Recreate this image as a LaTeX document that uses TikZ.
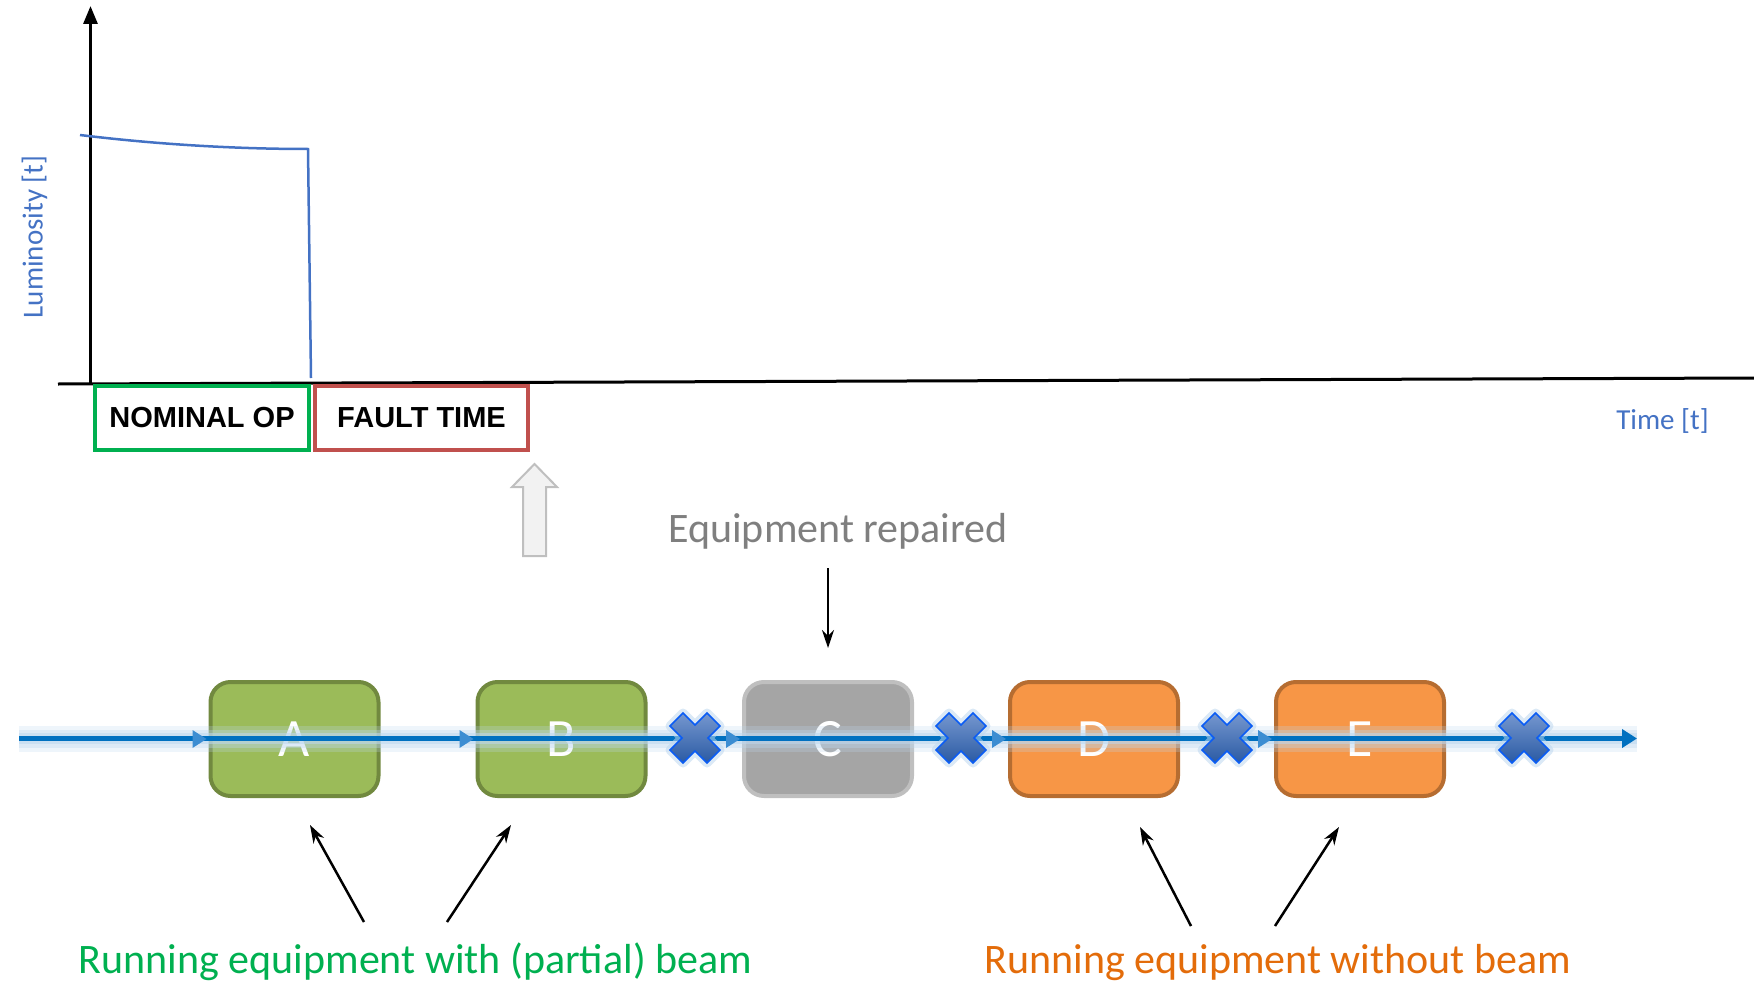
\documentclass[tikz,border=0pt]{standalone}
\usepackage{fontspec}
\setmainfont{Carlito}
\newfontfamily\arialfont{Liberation Sans}
\usetikzlibrary{arrows.meta}

\definecolor{lumblue}{HTML}{4472C4}
\definecolor{nomgreen}{HTML}{00B050}
\definecolor{faultred}{HTML}{C0504D}
\definecolor{hollowfill}{HTML}{F2F2F2}
\definecolor{hollowline}{HTML}{BFBFBF}
\definecolor{repgray}{HTML}{7F7F7F}
\definecolor{eqgreen}{HTML}{9BBB59}
\definecolor{eqgreenb}{HTML}{71893F}
\definecolor{eqgray}{HTML}{A5A5A5}
\definecolor{eqgrayb}{HTML}{BFBFBF}
\definecolor{eqorange}{HTML}{F79646}
\definecolor{eqorangeb}{HTML}{B66D31}
\definecolor{beamblue}{HTML}{0070C0}
\definecolor{headblue}{HTML}{3C8DD2}
\definecolor{glowblue}{HTML}{BDD7EE}
\definecolor{xtop}{HTML}{7597CF}
\definecolor{xbot}{HTML}{2A5AA3}
\definecolor{xedge}{HTML}{0A5CF5}
\definecolor{txtgreen}{HTML}{00B050}
\definecolor{txtorange}{HTML}{E36C0A}

\tikzset{
  axisline/.style={line width=3pt, black},
  lumline/.style={line width=2.5pt, lumblue},
  labelbox/.style={draw, line width=4pt, minimum height=64pt, inner sep=0pt,
    font=\arialfont\bfseries\fontsize{29}{34}\selectfont},
  axlabel/.style={text=lumblue, inner sep=0pt, font=\fontsize{29}{34}\selectfont},
  bigtext/.style={inner sep=0pt, font=\fontsize{42}{50}\selectfont},
  eqbox/.style={draw, line width=4pt, rounded corners=20pt, minimum width=168pt,
    minimum height=114pt, inner sep=0pt, text=white, font=\fontsize{54}{60}\selectfont},
  pointer/.style={line width=2.5pt, black, -{Stealth[length=18pt,width=12pt]}},
  xmark/.pic={
    \path[draw=glowblue, line width=9pt, opacity=0.55, line join=round]
      (0,-13) -- (12,-25) -- (25,-12) -- (13,0) -- (25,12) -- (12,25) -- (0,13)
      -- (-12,25) -- (-25,12) -- (-13,0) -- (-25,-12) -- (-12,-25) -- cycle;
    \shade[top color=xtop, bottom color=xbot, draw=xedge, line width=1.5pt, line join=miter]
      (0,-13) -- (12,-25) -- (25,-12) -- (13,0) -- (25,12) -- (12,25) -- (0,13)
      -- (-12,25) -- (-25,12) -- (-13,0) -- (-25,-12) -- (-12,-25) -- cycle;
  }
}

\begin{document}
\begin{tikzpicture}[x=1pt, y=-1pt]
\useasboundingbox (0,0) rectangle (1754,982);

% luminosity chart axes
\coordinate (ybot) at (90.5,384);
\coordinate (ytop) at (90.5,6);
\coordinate (xleft) at (58,384);
\coordinate (xright) at (1754,378);
\draw[axisline] (xleft) -- (xright);
\draw[axisline, -{Triangle[length=18pt,width=14pt]}] (ybot) -- (ytop);

% luminosity curve: slow decay, then beam dump
\draw[lumline] (80,135) .. controls (170,146) and (250,149) .. (308,149) -- (311,378);

% axis labels
\node[axlabel, rotate=90] (lumlab) at (34.5,237) {Luminosity [t]};
\node[axlabel, anchor=base] (timelab) at (1662.5,429) {Time [t]};

% operation phases
\node[labelbox, draw=nomgreen, minimum width=214pt] (nom) at (202,417.5) {\raisebox{-2pt}{NOMINAL OP}};
\node[labelbox, draw=faultred, minimum width=213pt] (fault) at (421.5,417.5) {\raisebox{-2pt}{FAULT TIME}};

% hollow upward arrow
\draw[fill=hollowfill, draw=hollowline, line width=2pt, line join=miter]
  (534.5,464) -- (557,487) -- (546,487) -- (546,556) -- (523,556) -- (523,487) -- (512,487) -- cycle;

% repaired equipment
\node[bigtext, anchor=base, text=repgray] (rep) at (838,542) {Equipment repaired};
\coordinate (reptail) at (828,568);
\coordinate (rephead) at (828,648);
\draw[pointer] (reptail) -- (rephead);

% equipment chain
\node[eqbox, fill=eqgreen, draw=eqgreenb] (A) at (294.5,739) {A};
\node[eqbox, fill=eqgreen, draw=eqgreenb] (B) at (561.5,739) {B};
\node[eqbox, fill=eqgray, draw=eqgrayb] (C) at (828,739) {C};
\node[eqbox, fill=eqorange, draw=eqorangeb] (D) at (1094,739) {D};
\node[eqbox, fill=eqorange, draw=eqorangeb] (E) at (1360,739) {E};

% beam line with glow
\coordinate (bstart) at (19,738.5);
\coordinate (bend) at (1637,738.5);
\draw[glowblue, line width=26pt, opacity=0.25] (bstart) -- (bend);
\draw[glowblue, line width=18pt, opacity=0.35] (bstart) -- (bend);
\draw[glowblue, line width=11pt, opacity=0.55] (bstart) -- (bend);
\draw[beamblue, line width=5pt, -{Triangle[length=15pt,width=18pt]}] (bstart) -- (bend);
\foreach \n in {A,B,C,D,E}
  \fill[headblue] ([xshift=-2pt]\n.west) -- ++(-14,-9) -- ++(0,18) -- cycle;

% interlocks
\pic at (695,738) {xmark};
\pic at (961,738) {xmark};
\pic at (1227,738) {xmark};
\pic at (1524,738) {xmark};

% running equipment annotations
\node[bigtext, anchor=base, text=txtgreen] (withbeam) at (415.5,973) {Running equipment with (partial) beam};
\node[bigtext, anchor=base, text=txtorange] (nobeam) at (1278,973) {Running equipment without beam};
\coordinate (t1) at (364,922); \coordinate (h1) at (310,825);
\coordinate (t2) at (447,922); \coordinate (h2) at (511,825);
\coordinate (t3) at (1191,926); \coordinate (h3) at (1140,827);
\coordinate (t4) at (1275,926); \coordinate (h4) at (1339,827);
\draw[pointer] (t1) -- (h1);
\draw[pointer] (t2) -- (h2);
\draw[pointer] (t3) -- (h3);
\draw[pointer] (t4) -- (h4);
\end{tikzpicture}
\end{document}
